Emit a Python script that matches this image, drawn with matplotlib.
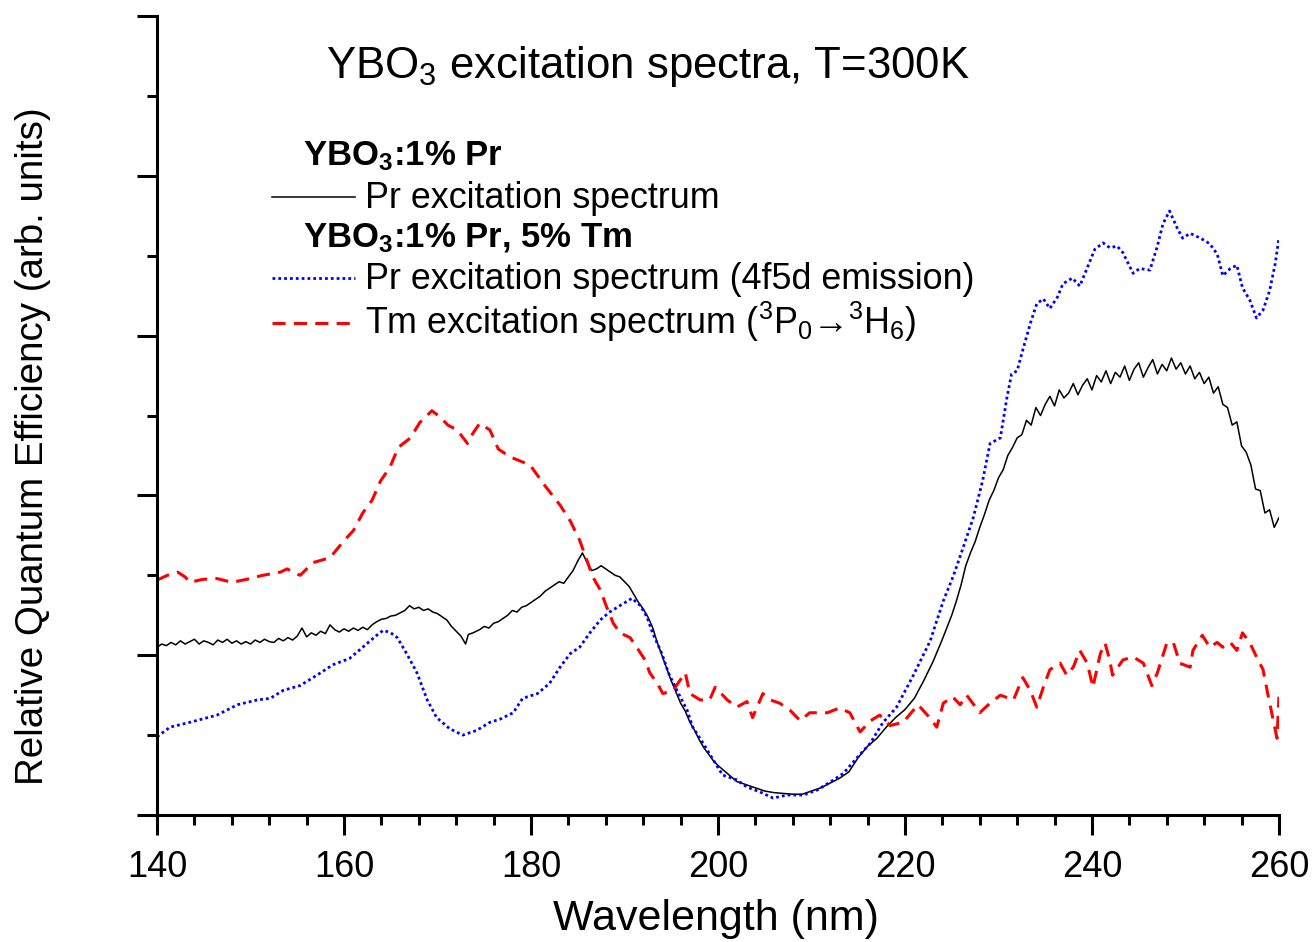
import matplotlib
matplotlib.use("Agg")
import matplotlib.pyplot as plt
from matplotlib.ticker import MultipleLocator, NullFormatter

plt.rcParams["font.family"] = ["Liberation Sans", "DejaVu Sans"]
plt.rcParams["mathtext.default"] = "regular"

# YBO3:1% Pr -- Pr excitation spectrum
pr_wl = [140.0, 140.5, 141.0, 141.5, 142.0, 142.5, 143.0, 143.5, 144.0, 144.5,
         145.0, 145.5, 146.0, 146.5, 147.0, 147.5, 148.0, 148.5, 149.0, 149.5,
         150.0, 150.5, 151.0, 151.5, 152.0, 152.5, 153.0, 153.5, 154.0, 154.5,
         155.0, 155.5, 156.0, 156.5, 157.0, 157.5, 158.0, 158.5, 159.0, 159.5,
         160.0, 160.5, 161.0, 161.5, 162.0, 162.5, 163.0, 163.5, 164.0, 164.5,
         165.0, 165.5, 166.0, 166.5, 167.0, 167.5, 168.0, 168.5, 169.0, 169.5,
         170.0, 170.5, 171.0, 171.5, 172.0, 172.5, 173.0, 173.3, 173.8, 174.5,
         175.0, 175.5, 176.0, 176.5, 177.0, 177.5, 178.0, 178.5, 179.0, 179.5,
         180.0, 180.5, 181.0, 181.5, 182.0, 182.5, 183.0, 183.5, 184.0, 184.5,
         185.0, 185.5, 186.0, 186.5, 187.0, 187.5, 188.0, 188.5, 189.0, 189.5,
         190.0, 190.5, 191.0, 191.5, 192.0, 192.5, 193.0, 193.5, 194.0, 194.5,
         195.0, 195.5, 196.0, 196.5, 197.0, 197.5, 198.0, 198.5, 199.0, 199.5,
         200.0, 201.0, 202.0, 203.0, 204.0, 205.0, 206.0, 207.0, 208.0, 209.0,
         210.0, 211.0, 212.0, 213.0, 214.0, 215.0, 216.0, 217.0, 218.0, 219.0,
         220.0, 221.0, 222.0, 223.0, 224.0, 225.0, 225.5, 226.0, 226.5, 227.0,
         227.5, 228.0, 228.5, 229.0, 229.5, 230.0, 230.5, 231.0, 231.5, 232.0,
         232.5, 233.0, 233.5, 234.0, 234.5, 235.0, 235.5, 236.0, 236.5, 237.0,
         237.5, 238.0, 238.5, 239.0, 239.5, 240.0, 240.5, 241.0, 241.5, 242.0,
         242.5, 243.0, 243.5, 244.0, 244.5, 245.0, 245.5, 246.0, 246.5, 247.0,
         247.5, 248.0, 248.5, 249.0, 249.5, 250.0, 250.5, 251.0, 251.5, 252.0,
         252.5, 253.0, 253.5, 254.0, 254.5, 255.0, 255.5, 256.0, 256.5, 257.0,
         257.5, 258.0, 258.5, 259.0, 259.5, 260.0]
pr_val = [1.05, 1.07, 1.06, 1.08, 1.065, 1.09, 1.07, 1.085, 1.10, 1.07,
          1.09, 1.08, 1.065, 1.095, 1.08, 1.10, 1.075, 1.09, 1.07, 1.085,
          1.07, 1.095, 1.08, 1.10, 1.085, 1.08, 1.105, 1.09, 1.11, 1.095,
          1.12, 1.17, 1.115, 1.14, 1.125, 1.15, 1.135, 1.19, 1.16, 1.145,
          1.165, 1.15, 1.17, 1.155, 1.175, 1.16, 1.19, 1.21, 1.225, 1.23,
          1.245, 1.25, 1.265, 1.28, 1.31, 1.29, 1.30, 1.28, 1.29, 1.27,
          1.26, 1.24, 1.22, 1.18, 1.15, 1.12, 1.07, 1.13, 1.14, 1.16,
          1.18, 1.17, 1.20, 1.21, 1.23, 1.25, 1.28, 1.27, 1.30, 1.31,
          1.33, 1.35, 1.37, 1.40, 1.42, 1.44, 1.46, 1.45, 1.49, 1.53,
          1.59, 1.64, 1.58, 1.53, 1.54, 1.56, 1.54, 1.52, 1.50, 1.49,
          1.46, 1.43, 1.38, 1.33, 1.29, 1.24, 1.175, 1.08, 1.00, 0.92,
          0.84, 0.77, 0.70, 0.65, 0.58, 0.53, 0.47, 0.42, 0.38, 0.34,
          0.31, 0.26, 0.21, 0.19, 0.17, 0.15, 0.14, 0.135, 0.13, 0.13,
          0.15, 0.17, 0.20, 0.23, 0.27, 0.36, 0.43, 0.48, 0.55, 0.61,
          0.66, 0.73, 0.84, 0.96, 1.10, 1.25, 1.34, 1.44, 1.56, 1.64,
          1.71, 1.80, 1.88, 1.97, 2.03, 2.11, 2.16, 2.25, 2.30, 2.36,
          2.38, 2.47, 2.44, 2.55, 2.50, 2.57, 2.62, 2.56, 2.66, 2.61,
          2.64, 2.70, 2.63, 2.69, 2.73, 2.66, 2.75, 2.71, 2.78, 2.70,
          2.77, 2.74, 2.81, 2.72, 2.79, 2.83, 2.74, 2.80, 2.85, 2.76,
          2.82, 2.78, 2.86, 2.79, 2.83, 2.76, 2.81, 2.73, 2.77, 2.70,
          2.74, 2.64, 2.68, 2.57, 2.55, 2.44, 2.46, 2.31, 2.27, 2.19,
          2.04, 2.03, 1.89, 1.91, 1.80, 1.86]

# YBO3:1% Pr, 5% Tm -- Pr excitation spectrum (4f5d emission)
prtm_wl = [140.0, 141.4, 143.5, 146.4, 148.6, 150.7, 152.1, 153.5, 155.3, 157.1,
           158.8, 160.6, 162.0, 163.5, 164.2, 165.0, 165.7, 166.7, 167.8, 168.9,
           169.9, 171.3, 172.7, 174.2, 175.6, 176.7, 178.1, 179.1, 180.7, 182.0,
           183.1, 184.2, 185.2, 186.3, 187.4, 188.4, 189.5, 190.8, 191.7, 192.4,
           193.0, 194.0, 194.7, 195.6, 196.7, 197.3, 198.4, 199.5, 200.5, 202.0,
           203.1, 204.5, 205.9, 207.4, 209.1, 210.6, 212.0, 213.4, 214.9, 216.3,
           217.6, 219.1, 220.9, 222.7, 224.1, 225.2, 226.2, 227.3, 228.3, 229.1,
           230.2, 230.9, 231.4, 232.0, 232.6, 233.4, 234.1, 234.8, 235.5, 236.3,
           236.9, 237.9, 238.7, 239.5, 240.3, 241.2, 241.9, 242.7, 243.3, 244.4,
           245.1, 246.2, 246.95, 247.6, 248.3, 249.1, 249.7, 250.5, 251.6, 252.6,
           253.4, 254.0, 254.8, 255.5, 256.1, 256.9, 257.6, 258.3, 259.0, 259.6,
           260.0]
prtm_val = [0.49, 0.55, 0.58, 0.625, 0.69, 0.72, 0.73, 0.78, 0.81, 0.875,
            0.94, 0.98, 1.05, 1.125, 1.156, 1.14, 1.11, 1.01, 0.89, 0.72,
            0.61, 0.54, 0.50, 0.53, 0.58, 0.60, 0.64, 0.73, 0.76, 0.825,
            0.925, 1.01, 1.05, 1.14, 1.22, 1.27, 1.31, 1.356, 1.31, 1.24,
            1.14, 1.01, 0.89, 0.78, 0.656, 0.55, 0.45, 0.344, 0.25, 0.22,
            0.175, 0.144, 0.106, 0.125, 0.125, 0.156, 0.206, 0.26, 0.36, 0.45,
            0.575, 0.675, 0.875, 1.09, 1.34, 1.50, 1.67, 1.86, 2.09, 2.325,
            2.36, 2.61, 2.76, 2.78, 2.91, 3.075, 3.20, 3.23, 3.17, 3.24,
            3.325, 3.36, 3.31, 3.425, 3.54, 3.58, 3.55, 3.56, 3.52, 3.39,
            3.42, 3.41, 3.55, 3.70, 3.78, 3.675, 3.61, 3.64, 3.61, 3.575,
            3.51, 3.375, 3.42, 3.44, 3.30, 3.22, 3.11, 3.16, 3.28, 3.45,
            3.61]

# YBO3:1% Pr, 5% Tm -- Tm excitation spectrum (3P0 -> 3H6)
tm_wl = [140.0, 141.1, 142.2, 143.0, 143.5, 144.9, 146.4, 148.0, 149.6, 151.3,
         153.2, 153.9, 155.3, 156.7, 158.5, 159.9, 161.0, 162.0, 163.0, 163.9,
         164.9, 165.8, 167.1, 168.1, 169.4, 170.3, 171.1, 172.1, 173.2, 173.8,
         174.5, 175.6, 176.5, 177.8, 179.9, 181.5, 183.1, 184.2, 185.2, 186.0,
         186.6, 187.4, 188.1, 188.8, 189.5, 190.6, 191.3, 192.2, 192.7, 193.5,
         194.1, 195.2, 195.9, 196.5, 197.0, 198.1, 199.1, 199.7, 201.0, 202.0,
         203.1, 203.7, 204.8, 205.6, 206.6, 207.7, 208.8, 209.8, 211.7, 213.0,
         214.1, 215.2, 216.3, 217.3, 218.4, 219.8, 220.9, 221.4, 222.4, 223.4,
         224.1, 225.1, 225.9, 226.6, 228.0, 229.1, 230.2, 231.6, 232.6, 233.4,
         234.1, 234.8, 235.5, 236.6, 237.3, 238.0, 238.7, 239.5, 240.1, 240.9,
         241.4, 241.9, 242.2, 243.3, 244.4, 245.5, 246.4, 247.0, 248.0, 248.7,
         249.4, 250.5, 250.8, 251.8, 252.6, 253.4, 254.0, 254.8, 255.5, 256.1,
         256.9, 257.6, 258.3, 258.8, 259.4, 259.8, 260.0]
tm_val = [1.47, 1.50, 1.52, 1.49, 1.456, 1.475, 1.48, 1.456, 1.475, 1.50,
          1.52, 1.54, 1.50, 1.58, 1.61, 1.71, 1.78, 1.89, 1.97, 2.09,
          2.175, 2.30, 2.36, 2.456, 2.53, 2.49, 2.44, 2.41, 2.325, 2.39,
          2.45, 2.41, 2.29, 2.24, 2.19, 2.06, 1.94, 1.84, 1.72, 1.59,
          1.49, 1.41, 1.30, 1.20, 1.14, 1.11, 1.05, 0.97, 0.89, 0.825,
          0.76, 0.78, 0.84, 0.89, 0.76, 0.72, 0.72, 0.80, 0.72, 0.675,
          0.71, 0.61, 0.76, 0.72, 0.70, 0.656, 0.59, 0.64, 0.64, 0.67,
          0.64, 0.52, 0.59, 0.625, 0.56, 0.58, 0.656, 0.69, 0.625, 0.55,
          0.70, 0.74, 0.69, 0.75, 0.64, 0.70, 0.75, 0.72, 0.86, 0.78,
          0.675, 0.80, 0.91, 0.95, 0.875, 0.925, 1.03, 0.95, 0.80, 1.01,
          1.075, 0.97, 0.875, 0.97, 0.99, 0.95, 0.81, 0.89, 1.075, 1.08,
          0.95, 0.925, 1.03, 1.125, 1.05, 1.08, 1.05, 1.08, 1.03, 1.14,
          1.075, 0.99, 0.91, 0.76, 0.59, 0.48, 0.74]

fig = plt.figure(figsize=(13.12, 9.42), dpi=100)
ax = fig.add_axes([0.1197, 0.1348, 0.8551, 0.8482])

black_style = dict(color="black", lw=1.1)
blue_style = dict(color="#0000ff", lw=2.0, linestyle=(0, (1.0, 1.1)))
red_style = dict(color="#ff0000", lw=2.2, linestyle=(0, (4.3, 2.7)))

ax.plot(pr_wl, pr_val, **black_style)
ax.plot(tm_wl, tm_val, **red_style)
ax.plot(prtm_wl, prtm_val, **blue_style)

ax.set_xlim(140, 260)
ax.set_ylim(0, 5)
ax.xaxis.set_major_locator(MultipleLocator(20))
ax.xaxis.set_minor_locator(MultipleLocator(4))
ax.yaxis.set_major_locator(MultipleLocator(1))
ax.yaxis.set_minor_locator(MultipleLocator(0.5))
ax.yaxis.set_major_formatter(NullFormatter())

for side in ("top", "right"):
    ax.spines[side].set_visible(False)
for side in ("left", "bottom"):
    ax.spines[side].set_linewidth(2.2)
ax.tick_params(which="major", direction="out", length=14.5, width=2.2,
               labelsize=26, pad=11)
ax.tick_params(which="minor", direction="out", length=7.5, width=2.2)

ax.text(0.4376, 0.9224, "YBO$_3$ excitation spectra, T=300K",
        transform=ax.transAxes, ha="center", va="baseline", fontsize=31.5)

# hand-built legend with group headers
tx = 0.1853
ax.text(0.130, 0.8135, "YBO$_3$:1% Pr", transform=ax.transAxes,
        fontsize=25, fontweight="bold", va="baseline")
ax.plot([0.1025, 0.1765], [0.774, 0.774], transform=ax.transAxes, **black_style)
ax.text(tx, 0.7597, "Pr excitation spectrum", transform=ax.transAxes,
        fontsize=25.8, va="baseline")
ax.text(0.130, 0.711, "YBO$_3$:1% Pr, 5% Tm", transform=ax.transAxes,
        fontsize=25, fontweight="bold", va="baseline")
ax.plot([0.1025, 0.1765], [0.672, 0.672], transform=ax.transAxes, **blue_style)
ax.text(tx, 0.658, "Pr excitation spectrum (4f5d emission)",
        transform=ax.transAxes, fontsize=25.8, va="baseline")
ax.plot([0.1025, 0.1765], [0.616, 0.616], transform=ax.transAxes, **red_style)
ax.text(tx, 0.602, "Tm excitation spectrum ($^3$P$_0$\u2192$^3$H$_6$)",
        transform=ax.transAxes, fontsize=25.8, va="baseline")

ax.text(0.498, -0.144, "Wavelength (nm)", transform=ax.transAxes,
        ha="center", va="baseline", fontsize=31)
fig.text(33 / 1312, 1 - 446 / 942, "Relative Quantum Efficiency (arb. units)",
         rotation=90, ha="center", va="center", fontsize=27.7)

fig.savefig("out.png", dpi=100)
